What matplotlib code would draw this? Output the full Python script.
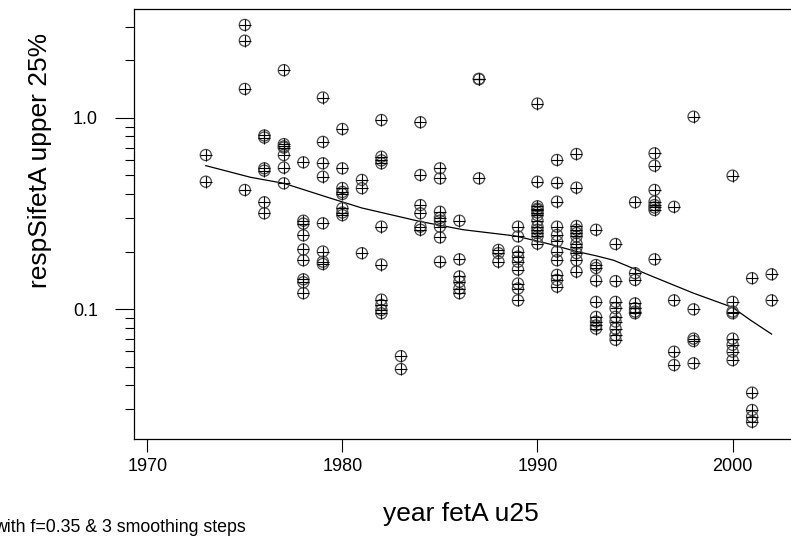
import matplotlib
matplotlib.use("Agg")
import matplotlib.pyplot as plt
from matplotlib.ticker import FixedLocator, NullFormatter, FixedFormatter

plt.rcParams['font.family'] = ['Liberation Sans', 'DejaVu Sans']

y1973 = [0.64, 0.464]
y1975 = [3.07, 2.54, 1.42, 0.42]
y1976 = [0.81, 0.79, 0.545, 0.53, 0.362, 0.317]
y1977 = [1.78, 0.73, 0.71, 0.70, 0.64, 0.55, 0.455]
y1978 = [0.586, 0.29, 0.28, 0.243, 0.205, 0.18, 0.143, 0.138, 0.121]
y1979 = [1.28, 0.75, 0.579, 0.493, 0.281, 0.20, 0.177, 0.172]
y1980 = [0.876, 0.545, 0.43, 0.41, 0.40, 0.337, 0.32, 0.31]
y1981 = [0.474, 0.429, 0.196]
y1982 = [0.976, 0.627, 0.60, 0.579, 0.27, 0.171, 0.112, 0.105, 0.0988, 0.095]
y1983 = [0.0567, 0.0485]
y1984 = [0.95, 0.503, 0.35, 0.317, 0.27, 0.26]
y1985 = [0.545, 0.483, 0.323, 0.30, 0.29, 0.27, 0.237, 0.177]
y1986 = [0.29, 0.182, 0.148, 0.139, 0.128, 0.121]
y1987 = [1.6, 1.6, 1.6, 0.483]
y1988 = [0.204, 0.196, 0.177]
y1989 = [0.27, 0.24, 0.2, 0.188, 0.177, 0.161, 0.136, 0.128, 0.111]
y1990 = [1.19, 0.464, 0.345, 0.335, 0.33, 0.32, 0.31, 0.29, 0.27, 0.26, 0.25, 0.24, 0.22]
y1991 = [0.603, 0.458, 0.365, 0.27, 0.244, 0.226, 0.20, 0.18, 0.151, 0.142, 0.131]
y1992 = [0.648, 0.432, 0.272, 0.26, 0.25, 0.24, 0.22, 0.21, 0.196, 0.18, 0.157]
y1993 = [0.26, 0.17, 0.164, 0.141, 0.109, 0.091, 0.086, 0.082, 0.079]
y1994 = [0.219, 0.14, 0.109, 0.101, 0.091, 0.086, 0.079, 0.073, 0.069]
y1995 = [0.362, 0.154, 0.142, 0.107, 0.101, 0.097, 0.095]
y1996 = [0.653, 0.563, 0.42, 0.365, 0.35, 0.34, 0.33, 0.182]
y1997 = [0.343, 0.111, 0.0598, 0.0509]
y1998 = [1.016, 0.0996, 0.070, 0.068, 0.052]
y2000 = [0.499, 0.109, 0.097, 0.095, 0.070, 0.065, 0.0598, 0.054]
y2001 = [0.145, 0.0365, 0.0296, 0.0273, 0.0257]
y2002 = [0.152, 0.111]

years = [1973, 1975, 1976, 1977, 1978, 1979, 1980, 1981, 1982, 1983, 1984,
         1985, 1986, 1987, 1988, 1989, 1990, 1991, 1992, 1993, 1994, 1995,
         1996, 1997, 1998, 2000, 2001, 2002]
values = [y1973, y1975, y1976, y1977, y1978, y1979, y1980, y1981, y1982,
          y1983, y1984, y1985, y1986, y1987, y1988, y1989, y1990, y1991,
          y1992, y1993, y1994, y1995, y1996, y1997, y1998, y2000, y2001, y2002]

# smoothed curve
smooth_x = [1973.0, 1975.3, 1977.0, 1979.4, 1981.0, 1984.0, 1986.2, 1988.9,
            1990.6, 1992.0, 1993.0, 1993.9, 1995.9, 1998.0, 2000.0, 2000.9, 2002.0]
smooth_y = [0.563, 0.489, 0.455, 0.38, 0.338, 0.287, 0.26, 0.241,
            0.219, 0.2, 0.19, 0.18, 0.148, 0.121, 0.102, 0.0877, 0.0739]

xs = []
ys = []
for yr, vals in zip(years, values):
  for v in vals:
    xs.append(yr)
    ys.append(v)

fig = plt.figure(figsize=(7.91, 5.38), dpi=100)
ax = fig.add_axes([134/791, 1-439/538, (795-134)/791, 430/538])

ax.scatter(xs, ys, s=64, marker='o', facecolors='none',
           edgecolors='#4a4a4a', linewidths=0.9, zorder=3)
ax.scatter(xs, ys, s=64, marker='+', c='black', linewidths=0.8, zorder=4)
ax.plot(smooth_x, smooth_y, color='black', lw=0.9, zorder=2)

ax.set_yscale('log')
ax.set_xlim(1969.32, 2003.2)
ax.set_ylim(0.02087, 3.72)

ax.xaxis.set_major_locator(FixedLocator([1970, 1980, 1990, 2000]))
ax.xaxis.set_minor_locator(FixedLocator([]))
ax.yaxis.set_major_locator(FixedLocator([0.1, 1.0]))
ax.yaxis.set_major_formatter(FixedFormatter(['0.1', '1.0']))
minors = [m * d for d in (0.01, 0.1, 1.0) for m in range(2, 10)]
ax.yaxis.set_minor_locator(FixedLocator(minors))
ax.yaxis.set_minor_formatter(NullFormatter())

ax.tick_params(axis='x', which='major', direction='out', length=9, width=0.8,
               labelsize=13, pad=5, top=False)
ax.tick_params(axis='y', which='major', direction='out', length=14, width=0.8,
               labelsize=13, pad=12, right=False)
ax.tick_params(axis='y', which='minor', direction='out', length=6.5, width=0.8,
               right=False)
for sp in ax.spines.values():
  sp.set_linewidth(0.9)
ax.spines['right'].set_visible(False)

ax.set_xlabel('year fetA u25', fontsize=19, va='center')
ax.xaxis.set_label_coords((461-134)/661, (439-514)/430)
ax.set_ylabel('respSifetA upper 25%', fontsize=19, va='center', ha='center')
ax.yaxis.set_label_coords((40-134)/661, (439-160)/430)

fig.text(-6/791, 1-527/538, 'with f=0.35 & 3 smoothing steps',
         fontsize=12.8, ha='left', va='center')

fig.savefig('out.png', dpi=100)
